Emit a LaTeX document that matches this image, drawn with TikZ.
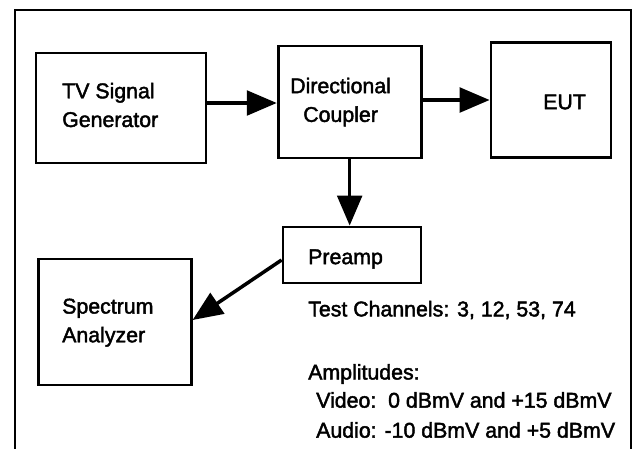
\documentclass[tikz,border=0pt]{standalone}
\usepackage{fontspec}
\setmainfont{Liberation Sans}[FakeBold=2]
\usetikzlibrary{arrows.meta}

\tikzset{
  blk/.style={draw, line width=2.4pt, inner sep=0pt},
  txt/.style={inner sep=0pt, anchor=west},
  arr/.style={line width=3pt, -{Triangle[length=0.9cm, width=0.74cm]}}
}

\begin{document}
\begin{tikzpicture}[font=\fontsize{18.2pt}{24.5pt}\selectfont]
\useasboundingbox (0,0) rectangle (19.02,-13.44);
% outer frame
\draw [line width=1.8pt] (0.45,-14.0) -- (0.45,-0.3) -- (18.93,-0.3) -- (18.93,-14.0);
% blocks
\node [blk, minimum width=5.10cm, minimum height=3.30cm] (tv) at (3.63,-3.24) {};
\node [blk, minimum width=4.29cm, minimum height=3.36cm] (dc) at (10.49,-3.06) {};
\node [blk, minimum width=3.60cm, minimum height=3.45cm] (eut) at (16.53,-2.99) {};
\node [blk, minimum width=4.14cm, minimum height=1.68cm] (pre) at (10.56,-7.65) {};
\node [blk, minimum width=4.59cm, minimum height=3.78cm] (sa) at (3.44,-9.66) {};
% block texts
\node [txt, align=left] (tvtext) at (1.86,-3.15) {TV Signal\\Generator};
\node [txt, align=center] (dctext) at (8.70,-3.06) {Directional\\Coupler};
\node [txt] (euttext) at (16.29,-3.06) {EUT};
\node [txt] (pretext) at (9.24,-7.77) {Preamp};
\node [txt, align=left] (satext) at (1.86,-9.68) {Spectrum\\Analyzer};
% notes
\node [txt] (chan) at (9.24,-9.30) {Test Channels: 3, 12, 53, 74};
\node [txt] (ampl) at (9.24,-11.22) {Amplitudes:};
\node [txt] (video) at (9.48,-12.00) {Video:\ \ 0 dBmV and +15 dBmV};
\node [txt] (audio) at (9.48,-12.90) {Audio: -10 dBmV and +5 dBmV};
% connectors
\coordinate (a1) at ([yshift=0.15cm]tv.east);
\coordinate (a2) at ([yshift=0.06cm]dc.east);
\coordinate (a3) at ([yshift=-0.15cm]pre.west);
\draw [arr] (a1) -- (a1 -| dc.west);
\draw [arr] (a2) -- (a2 -| eut.west);
\draw [arr] (dc.south) -- (dc.south |- pre.north);
\draw [arr] (a3) -- ([yshift=0.06cm]sa.east);
\end{tikzpicture}
\end{document}
